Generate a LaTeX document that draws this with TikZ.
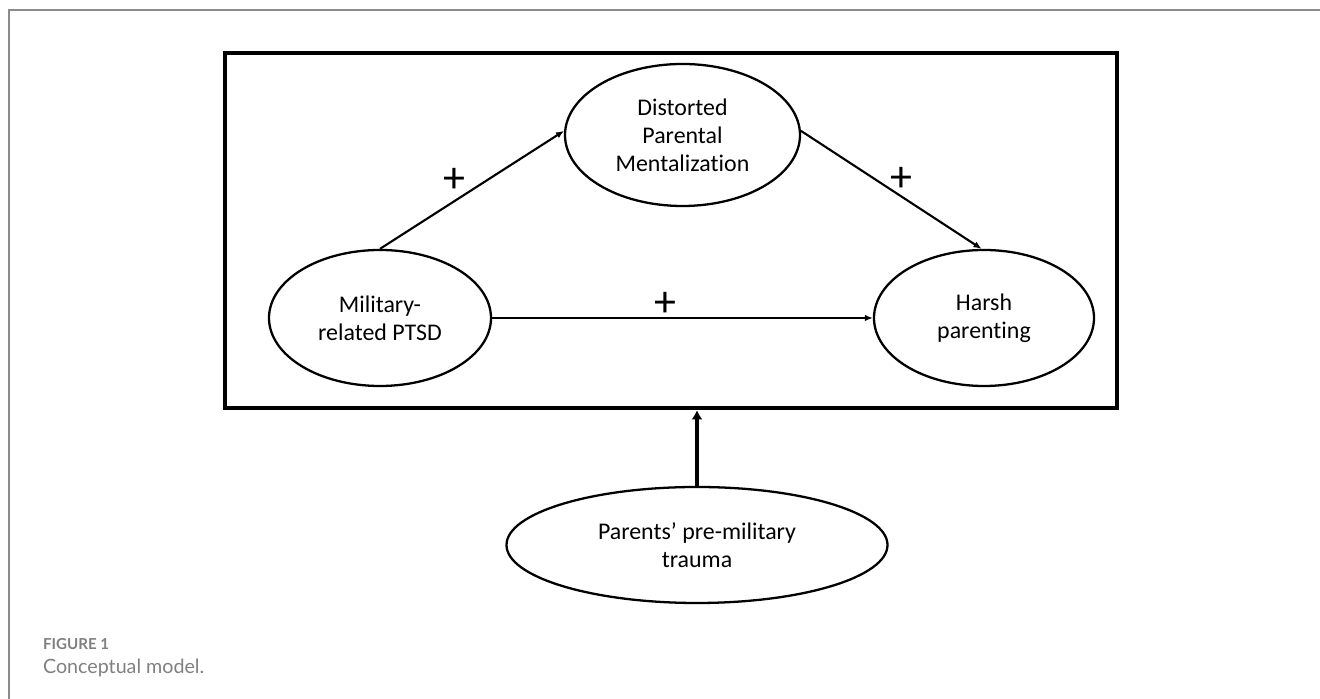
\documentclass[tikz,border=0pt]{standalone}
\usepackage{fontspec}
\setmainfont{Carlito}[Ligatures={TeX,NoCommon}]
\newfontfamily\captionfamily{Lato}
\usetikzlibrary{arrows.meta,shapes.geometric}
\definecolor{cmodInk}{HTML}{000000}
\definecolor{cmodRule}{HTML}{8C8C8C}
\definecolor{cmodCaption}{HTML}{808080}
\tikzset{
  % Conceptual model: mediation triangle inside the frame, moderator below it.
  cmod/base/.style={
    font=\fontsize{13.6pt}{15.9pt}\selectfont,
    text=cmodInk,
    line cap=butt,
    line join=miter
  },
  cmod/construct/.style={
    ellipse,
    draw=cmodInk,
    fill=white,
    line width=1.3pt,
    inner sep=0pt,
    align=center,
    font=\fontsize{13.6pt}{15.9pt}\selectfont
  },
  cmod/frame/.style={
    rectangle,
    draw=cmodInk,
    line width=2.56pt,
    inner sep=0pt
  },
  cmod/effect/.style={
    -{Latex[length=4.6pt,width=3.8pt]},
    draw=cmodInk,
    line width=1.2pt
  },
  cmod/moderation/.style={
    -{Latex[length=5.2pt,width=6.3pt]},
    draw=cmodInk,
    line width=2.4pt
  },
  cmod/sign/.style={
    font=\fontsize{25pt}{26pt}\selectfont,
    inner sep=0pt
  },
  cmod/rule/.style={
    draw=cmodRule,
    line width=1.14pt
  },
  cmod/caption label/.style={
    font=\captionfamily\bfseries\fontsize{8.6pt}{9.6pt}\selectfont,
    text=cmodCaption,
    anchor=base west,
    inner sep=0pt
  },
  cmod/caption/.style={
    font=\captionfamily\fontsize{11.2pt}{12.8pt}\selectfont,
    text=cmodCaption,
    anchor=base west,
    inner sep=0pt
  }
}
\begin{document}
\begin{tikzpicture}[cmod/base,x=1cm,y=1cm]
  \path[use as bounding box] (0,0) rectangle (26.40,13.98);
  \draw[cmod/rule] (0.18,0)--(0.18,13.78)--(26.40,13.78);
  \node[cmod/frame,minimum width=17.84cm,minimum height=7.10cm] (model) at (13.42,9.37) {};

  \node[cmod/construct,minimum width=4.70cm,minimum height=2.84cm]
    (mentalization) at (13.65,11.28) {Distorted\\Parental\\Mentalization};
  \node[cmod/construct,minimum width=4.44cm,minimum height=2.72cm]
    (ptsd) at (7.60,7.62) {Military-\\related PTSD};
  \node[cmod/construct,minimum width=4.40cm,minimum height=2.72cm]
    (harsh) at (19.68,7.62) {Harsh\\parenting};
  \node[cmod/construct,minimum width=7.62cm,minimum height=2.32cm]
    (trauma) at (13.94,3.08) {Parents’ pre-military\\trauma};

  % a path, b path and direct path, each marked positive
  \draw[cmod/effect] (ptsd.north) -- (mentalization.178);
  \draw[cmod/effect] (mentalization.2) -- (harsh.92);
  \draw[cmod/effect] (ptsd.east) -- (harsh.west);
  \node[cmod/sign] (signA) at (9.09,10.38) {+};
  \node[cmod/sign] (signB) at (18.02,10.40) {+};
  \node[cmod/sign] (signC) at (13.30,7.90) {+};

  \draw[cmod/moderation] (trauma.north) -- (trauma.north |- model.south);

  \node[cmod/caption label] (figLabel) at (0.854,0.98) {FIGURE 1};
  \node[cmod/caption] (figCaption) at (0.854,0.50) {Conceptual model.};
\end{tikzpicture}
\end{document}
